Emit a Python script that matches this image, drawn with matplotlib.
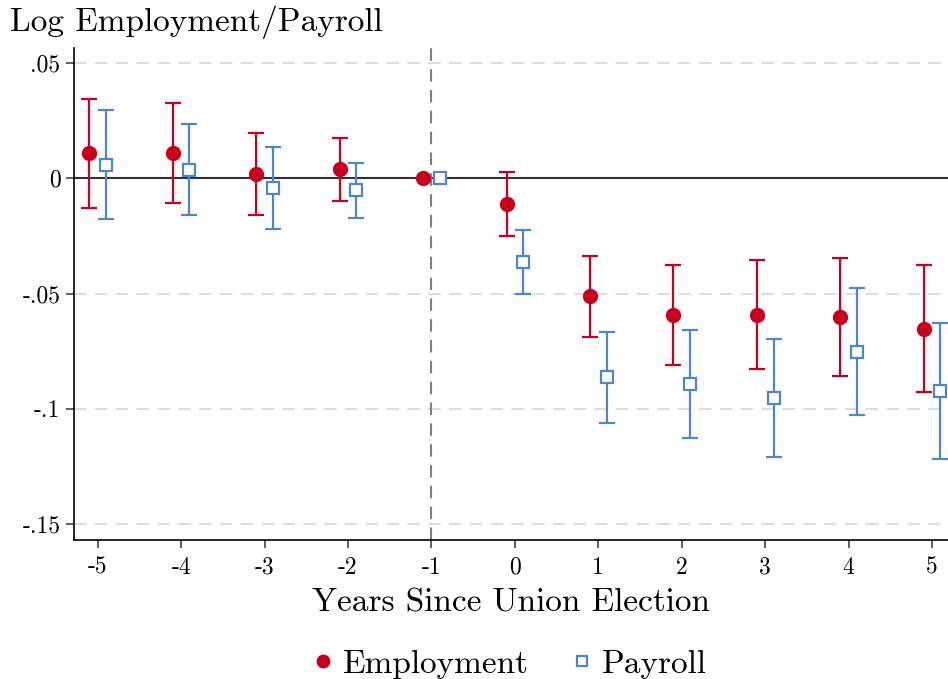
import matplotlib
matplotlib.use("Agg")
import matplotlib.pyplot as plt
import numpy as np

plt.rcParams['font.family'] = ['cmr10', 'DejaVu Serif']
plt.rcParams['axes.unicode_minus'] = False
plt.rcParams['mathtext.fontset'] = 'cm'

# event time relative to the union election
years = [-5, -4, -3, -2, -1, 0, 1, 2, 3, 4, 5]

# employment estimates with 95% CI
emp = [0.0109, 0.0109, 0.0019, 0.0039, 0.0, -0.0110, -0.0512, -0.0593, -0.0593, -0.0603, -0.0654]
emp_lo = [-0.0128, -0.0109, -0.0158, -0.0100, 0.0, -0.0249, -0.0690, -0.0809, -0.0829, -0.0858, -0.0928]
emp_hi = [0.0345, 0.0328, 0.0196, 0.0175, 0.0, 0.0027, -0.0335, -0.0375, -0.0355, -0.0346, -0.0377]

# payroll estimates with 95% CI
pay = [0.0058, 0.0037, -0.0042, -0.0052, 0.0, -0.0362, -0.0864, -0.0894, -0.0955, -0.0754, -0.0924]
pay_lo = [-0.0178, -0.0158, -0.0220, -0.0170, 0.0, -0.0500, -0.1060, -0.1129, -0.1210, -0.1029, -0.1219]
pay_hi = [0.0296, 0.0236, 0.0135, 0.0067, 0.0, -0.0223, -0.0667, -0.0658, -0.0699, -0.0477, -0.0629]

yticks = [0.05, 0, -0.05, -0.1, -0.15]
ytick_labels = ['.05', '0', '-.05', '-.1', '-.15']

red = '#C8001E'
blue = '#4F86C6'

fig = plt.figure(figsize=(9.48, 6.79), dpi=100)
ax = fig.add_axes([0.0784, 0.2047, 0.9216, 0.7243])

x = np.array(years, dtype=float)
emp = np.array(emp); pay = np.array(pay)
ci_emp = np.array([emp - np.array(emp_lo), np.array(emp_hi) - emp])
ci_pay = np.array([pay - np.array(pay_lo), np.array(pay_hi) - pay])
has_ci = np.abs(ci_emp).sum(axis=0) > 0

ax.axhline(0, color='#333333', lw=1.5, zorder=1)
ax.axvline(-1, color='#808080', lw=1.5, ls=(0, (6, 4)), zorder=1)
for yv in [0.05, -0.05, -0.1, -0.15]:
    ax.axhline(yv, color='#DDDDDD', lw=1.5, ls=(0, (6, 4)), zorder=0)

ax.errorbar(x[has_ci] - 0.1, emp[has_ci], yerr=ci_emp[:, has_ci], fmt='none',
            ecolor=red, elinewidth=1.6, capsize=6, capthick=1.6, zorder=2)
ax.errorbar(x[has_ci] + 0.1, pay[has_ci], yerr=ci_pay[:, has_ci], fmt='none',
            ecolor=blue, elinewidth=1.6, capsize=6, capthick=1.6, zorder=2)
ax.plot(x - 0.1, emp, 'o', color=red, ms=10, zorder=3, label='Employment')
ax.plot(x + 0.1, pay, 's', mfc='white', mec=blue, mew=1.6, ms=8, zorder=3, label='Payroll')

ax.set_xlim(-5.28, 5.19)
ax.set_ylim(-0.157, 0.0565)
ax.set_xticks(years)
ax.set_xticklabels([str(v) for v in years])
ax.set_yticks(yticks)
ax.set_yticklabels(ytick_labels)
ax.tick_params(labelsize=17, length=6, width=1.1, color='#333333')
ax.tick_params(axis='y', pad=4)
ax.tick_params(axis='x', pad=6)

for s in ['top', 'right']:
    ax.spines[s].set_visible(False)
for s in ['left', 'bottom']:
    ax.spines[s].set_linewidth(1.2)

ax.set_xlabel('Years Since Union Election', fontsize=24, labelpad=7)
fig.text(0.011, 0.967, 'Log Employment/Payroll', fontsize=24, ha='left', va='center')

fig.legend(loc='center', bbox_to_anchor=(0.536, 0.022), ncol=2, frameon=False,
           fontsize=24, handlelength=0.8, handletextpad=0.2, columnspacing=1.2,
           markerscale=0.9)

fig.savefig('out.png', dpi=100)
